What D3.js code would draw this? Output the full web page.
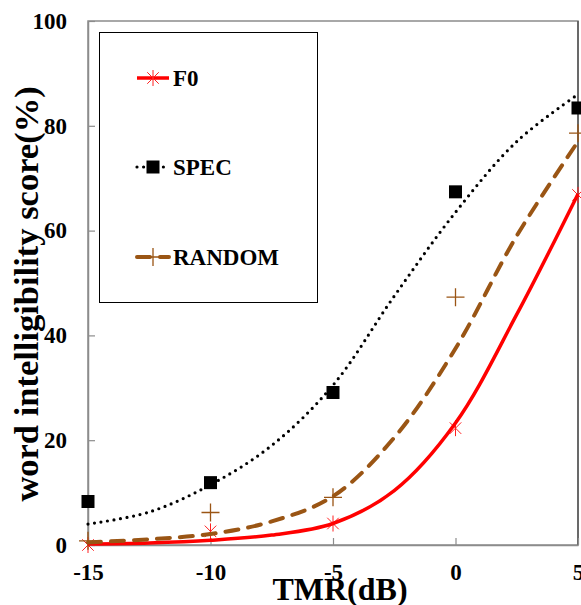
<!DOCTYPE html>
<html>
<head>
<meta charset="utf-8">
<script src="https://cdn.jsdelivr.net/npm/d3@7"></script>
<style>
  body { margin: 0; background: #fff; }
  svg { display: block; font-family: "Liberation Serif", "Times New Roman", serif; font-weight: bold; }
</style>
</head>
<body>
<div id="chart"></div>
<script>
// measured points
const tmr = [-15, -10, -5, 0, 5];
const f0Points = [0, 2.6, 4.1, 22.3, 66.8];
const specPoints = [8.3, 11.9, 29.1, 67.4, 83.4];
const randomPoints = [0.8, 6.2, 9.1, 47.3, 78.6];

// fitted curves
const curveX = [-15, -12.5, -10, -7.5, -5, -2.5, 0, 2.5, 5];
const f0Curve = [0.2, 0.4, 0.9, 1.9, 4.1, 10.4, 23.3, 44, 67];
const specCurve = [4, 6.3, 11.5, 19, 30.5, 47.5, 63.5, 77, 86];
const randomCurve = [0.5, 1.1, 2.1, 4.5, 9.3, 20.5, 37.5, 59, 77];

const xTicks = [-15, -10, -5, 0, 5];
const yTicks = [0, 20, 40, 60, 80, 100];

const width = 581, height = 605;
const margin = {top: 21, right: 3, bottom: 60, left: 88};

const svg = d3.select("#chart").append("svg")
    .attr("width", width)
    .attr("height", height);

const x = d3.scaleLinear().domain([-15, 5]).range([margin.left, width - margin.right]);
const y = d3.scaleLinear().domain([0, 100]).range([height - margin.bottom, margin.top]);

// frame
svg.append("rect")
    .attr("x", x(-15))
    .attr("y", y(100))
    .attr("width", x(5) - x(-15))
    .attr("height", y(0) - y(100))
    .attr("fill", "none")
    .attr("stroke", "#8c8c8c")
    .attr("stroke-width", 1.5);
svg.append("line")
    .attr("x1", x(5)).attr("x2", x(5))
    .attr("y1", y(100)).attr("y2", y(0))
    .attr("stroke", "#555")
    .attr("stroke-width", 1.5);

// axes
const xAxis = svg.append("g")
    .attr("transform", `translate(0,${y(0)})`)
    .call(d3.axisBottom(x).tickValues(xTicks).tickFormat(d3.format("d")).tickSizeInner(-7).tickSizeOuter(0).tickPadding(19));
const yAxis = svg.append("g")
    .attr("transform", `translate(${x(-15)},0)`)
    .call(d3.axisLeft(y).tickValues(yTicks).tickSizeInner(-7).tickSizeOuter(0).tickPadding(21));

[xAxis, yAxis].forEach(function (g) {
    g.select(".domain").attr("stroke", "#8c8c8c").attr("stroke-width", 1.5);
    g.selectAll(".tick line").attr("stroke", "#8c8c8c").attr("stroke-width", 1.2);
    g.selectAll(".tick text")
        .attr("fill", "#000")
        .style("font-family", "'Liberation Serif', serif")
        .style("font-weight", "bold")
        .style("font-size", "23px");
});
xAxis.selectAll(".tick text").text(d => d < 0 ? "-" + Math.abs(d) : d);

// axis titles
svg.append("text")
    .attr("x", 340)
    .attr("y", 600)
    .attr("text-anchor", "middle")
    .style("font-size", "32px")
    .text("TMR(dB)");

svg.append("text")
    .attr("transform", "translate(38,294) rotate(-90)")
    .attr("text-anchor", "middle")
    .style("font-size", "34.5px")
    .text("word intelligibility score(%)");

// legend box
svg.append("rect")
    .attr("x", 99.5)
    .attr("y", 32.5)
    .attr("width", 218)
    .attr("height", 270)
    .attr("fill", "#fff")
    .attr("stroke", "#000")
    .attr("stroke-width", 1);

const brown = "#9a5514";

const series = [
    {name: "F0", points: f0Points, curve: f0Curve, color: "red", width: 3.5, dash: null, cap: "butt", marker: "asterisk"},
    {name: "SPEC", points: specPoints, curve: specCurve, color: "#000", width: 3.2, dash: "0,6.6", cap: "round", marker: "square"},
    {name: "RANDOM", points: randomPoints, curve: randomCurve, color: brown, width: 4, dash: "13,10", cap: "round", marker: "plus"}
];

function markerPath(type, r) {
    if (type === "asterisk") {
        const d = r * 0.72;
        return `M0,${-r}L0,${r}M${-d},${-d}L${d},${d}M${-d},${d}L${d},${-d}`;
    }
    if (type === "plus") {
        return `M${-r},0L${r},0M0,${-r}L0,${r}`;
    }
    return `M${-r},${-r}H${r}V${r}H${-r}Z`;
}

function drawMarker(g, type, cx, cy, color) {
    if (type === "square") {
        g.append("path")
            .attr("transform", `translate(${cx},${cy})`)
            .attr("d", markerPath(type, 6.5))
            .attr("fill", "#000");
    } else if (type === "asterisk") {
        g.append("path")
            .attr("transform", `translate(${cx},${cy})`)
            .attr("d", markerPath(type, 8))
            .attr("fill", "none")
            .attr("stroke", "#ff2020")
            .attr("stroke-width", 1);
    } else {
        g.append("path")
            .attr("transform", `translate(${cx},${cy})`)
            .attr("d", markerPath(type, 9))
            .attr("fill", "none")
            .attr("stroke", color)
            .attr("stroke-width", 1.3);
    }
}

const line = d3.line()
    .x(d => x(d[0]))
    .y(d => y(d[1]))
    .curve(d3.curveCatmullRom.alpha(0.5));

const plot = svg.append("g");

// markers first, curves drawn over them
series.forEach(function (s) {
    tmr.forEach(function (t, i) {
        drawMarker(plot, s.marker, x(t), y(s.points[i]), s.color);
    });
});

series.forEach(function (s) {
    plot.append("path")
        .datum(curveX.map((t, i) => [t, s.curve[i]]))
        .attr("d", line)
        .attr("fill", "none")
        .attr("stroke", s.color)
        .attr("stroke-width", s.width)
        .attr("stroke-linecap", s.cap)
        .attr("stroke-dasharray", s.dash);
});

// legend entries
const legendY = [78, 167, 257];
series.forEach(function (s, i) {
    const g = svg.append("g");
    g.append("line")
        .attr("x1", 137).attr("x2", 169)
        .attr("y1", legendY[i]).attr("y2", legendY[i])
        .attr("stroke", s.color)
        .attr("stroke-width", s.width)
        .attr("stroke-linecap", s.cap)
        .attr("stroke-dasharray", s.dash);
    drawMarker(g, s.marker, 153, legendY[i], s.color);
    g.append("text")
        .attr("x", 173)
        .attr("y", legendY[i] + 8)
        .style("font-size", "23px")
        .text(s.name);
});
</script>
</body>
</html>
